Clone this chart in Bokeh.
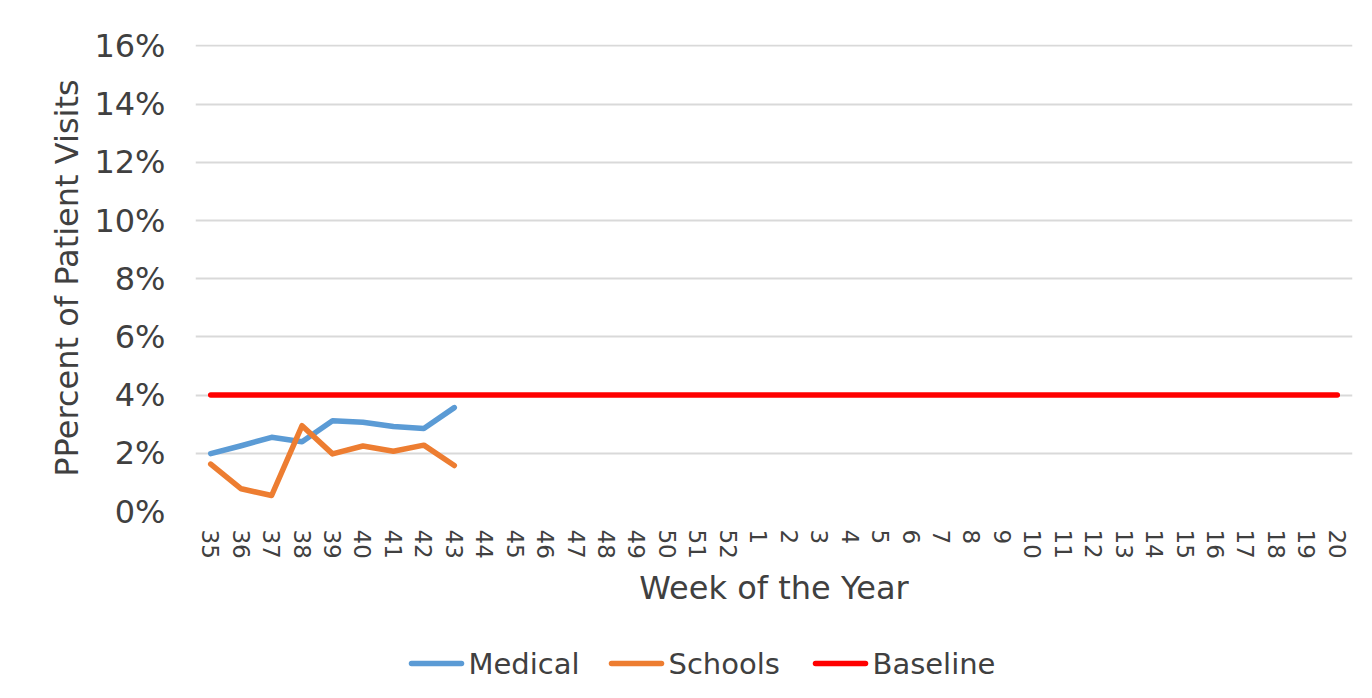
from bokeh.plotting import figure
from bokeh.layouts import column
from bokeh.models import FactorRange, Range1d, PrintfTickFormatter, FixedTicker
from bokeh.core.properties import value
from bokeh.embed import file_html
from bokeh.resources import INLINE

weeks = ["35", "36", "37", "38", "39", "40", "41", "42", "43", "44", "45", "46",
         "47", "48", "49", "50", "51", "52", "1", "2", "3", "4", "5", "6", "7",
         "8", "9", "10", "11", "12", "13", "14", "15", "16", "17", "18", "19", "20"]
data_weeks = ["35", "36", "37", "38", "39", "40", "41", "42", "43"]
medical = [1.99, 2.26, 2.55, 2.40, 3.12, 3.07, 2.92, 2.85, 3.57]
schools = [1.63, 0.78, 0.55, 2.95, 1.98, 2.25, 2.07, 2.28, 1.58]
baseline = [4.0] * len(weeks)
y_ticks = [0, 2, 4, 6, 8, 10, 12, 14, 16]
series_names = ["Medical", "Schools", "Baseline"]

FONT = "DejaVu Sans"
TXT = "#404040"
COLORS = ["#5B9BD5", "#ED7D31", "#FF0000"]
LW = 5.5
FRAME_L, FRAME_R = 195, 1352

p = figure(width=1356, height=630, output_backend="svg", toolbar_location=None,
           x_range=FactorRange(factors=weeks, range_padding=0),
           y_range=Range1d(0, 16.05),
           min_border_left=FRAME_L, min_border_top=44, min_border_right=1356 - FRAME_R,
           min_border_bottom=119)
p.outline_line_color = None
p.background_fill_color = "white"
p.border_fill_color = "white"

p.line(weeks, baseline, line_color=COLORS[2], line_width=LW, line_cap="round")
p.line(data_weeks, medical, line_color=COLORS[0], line_width=LW, line_cap="round", line_join="round")
p.line(data_weeks, schools, line_color=COLORS[1], line_width=LW, line_cap="round", line_join="round")

p.xgrid.grid_line_color = None
p.ygrid.grid_line_color = "#D9D9D9"
p.ygrid.grid_line_width = 2
p.yaxis.ticker = FixedTicker(ticks=y_ticks)
p.yaxis.formatter = PrintfTickFormatter(format="%d%%")

for ax in (p.xaxis[0], p.yaxis[0]):
    ax.axis_line_color = None
    ax.major_tick_line_color = None
    ax.minor_tick_line_color = None
    ax.major_label_text_color = TXT
    ax.major_label_text_font = FONT
    ax.axis_label_text_color = TXT
    ax.axis_label_text_font = FONT
    ax.axis_label_text_font_style = "normal"
    ax.axis_label_text_font_size = "32px"

p.yaxis.axis_label = "PPercent of Patient Visits"
p.yaxis.major_label_text_font_size = "32px"
p.yaxis.major_label_standoff = 24
p.yaxis.axis_label_standoff = 5

p.xaxis.axis_label = "Week of the Year"
p.xaxis.major_label_text_font_size = "23px"
p.xaxis.major_label_orientation = "vertical"
p.xaxis.major_label_standoff = 12
p.xaxis.axis_label_standoff = 7

# legend strip below the chart; its frame is aligned with the chart frame,
# so the x range is given in page pixels of that frame
q = figure(width=1356, height=52, output_backend="svg", toolbar_location=None,
           x_range=Range1d(FRAME_L, FRAME_R), y_range=Range1d(0, 52),
           min_border_left=FRAME_L, min_border_right=1356 - FRAME_R,
           min_border_top=0, min_border_bottom=0)
q.outline_line_color = None
q.axis.visible = False
q.grid.visible = False
q.border_fill_color = "white"
q.background_fill_color = "white"

leg_x = [408, 608, 812]   # start of each legend sample (layout)
sample_len = 56
leg_y = 19
for name, color, x0 in zip(series_names, COLORS, leg_x):
    q.line([x0 + 3, x0 + sample_len - 3], [leg_y, leg_y], line_color=color,
           line_width=LW, line_cap="round")
    q.text(x=[x0 + sample_len + 4], y=[leg_y], text=[name], text_font=value(FONT),
           text_font_size="29px", text_color=TXT, text_baseline="middle",
           text_align="left")

layout = column(p, q, spacing=0)
open("out.html", "w").write(file_html(layout, INLINE))
